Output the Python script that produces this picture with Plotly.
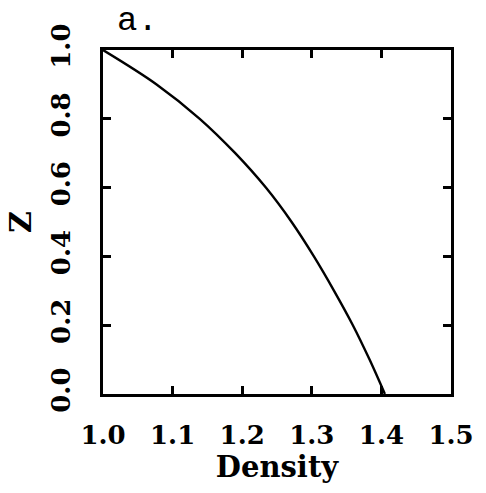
import plotly.graph_objects as go

# Density profile versus height
z = [1.0, 0.9, 0.8, 0.7, 0.6, 0.5, 0.4, 0.3, 0.2, 0.1, 0.0]
density = [1.0, 1.077, 1.139, 1.19, 1.234, 1.271, 1.303, 1.332, 1.359, 1.383, 1.405]

x_ticks = [1.0, 1.1, 1.2, 1.3, 1.4, 1.5]
y_ticks = [0.0, 0.2, 0.4, 0.6, 0.8, 1.0]

FONT = "DejaVu Serif"

fig = go.Figure()
fig.add_trace(go.Scatter(
    x=density, y=z, mode="lines",
    line=dict(color="black", width=2.4, shape="spline", smoothing=1.0),
    showlegend=False,
))

axis_common = dict(
    showgrid=False, zeroline=False,
    showline=True, linecolor="black", linewidth=3, mirror="allticks",
    ticks="inside", ticklen=8, tickwidth=2.5, tickcolor="black",
    tickfont=dict(family=FONT, size=26, color="black", weight="bold"),
)

fig.update_xaxes(
    range=[1.0, 1.5], tickvals=x_ticks,
    ticktext=[f"{v:.1f}" for v in x_ticks],
    ticklabelstandoff=16,
    title=dict(text="Density", font=dict(family=FONT, size=29, color="black", weight="bold"), standoff=8),
    **axis_common,
)
fig.update_yaxes(
    range=[0.0, 1.0], tickvals=y_ticks,
    ticktext=[f"{v:.1f}" for v in y_ticks],
    tickangle=-90,
    ticklabelstandoff=20,
    title=dict(text="Z", font=dict(family=FONT, size=30, color="black", weight="bold"), standoff=6),
    **axis_common,
)

fig.add_annotation(
    text="a.", xref="paper", yref="paper", x=0.035, y=1.0, yshift=8,
    xanchor="left", yanchor="bottom", showarrow=False,
    font=dict(family="Liberation Mono", size=34, color="black"),
)

fig.update_layout(
    width=486, height=493,
    margin=dict(l=103, r=30, t=50, b=99),
    paper_bgcolor="white", plot_bgcolor="white",
)

fig.write_html("out.html")
